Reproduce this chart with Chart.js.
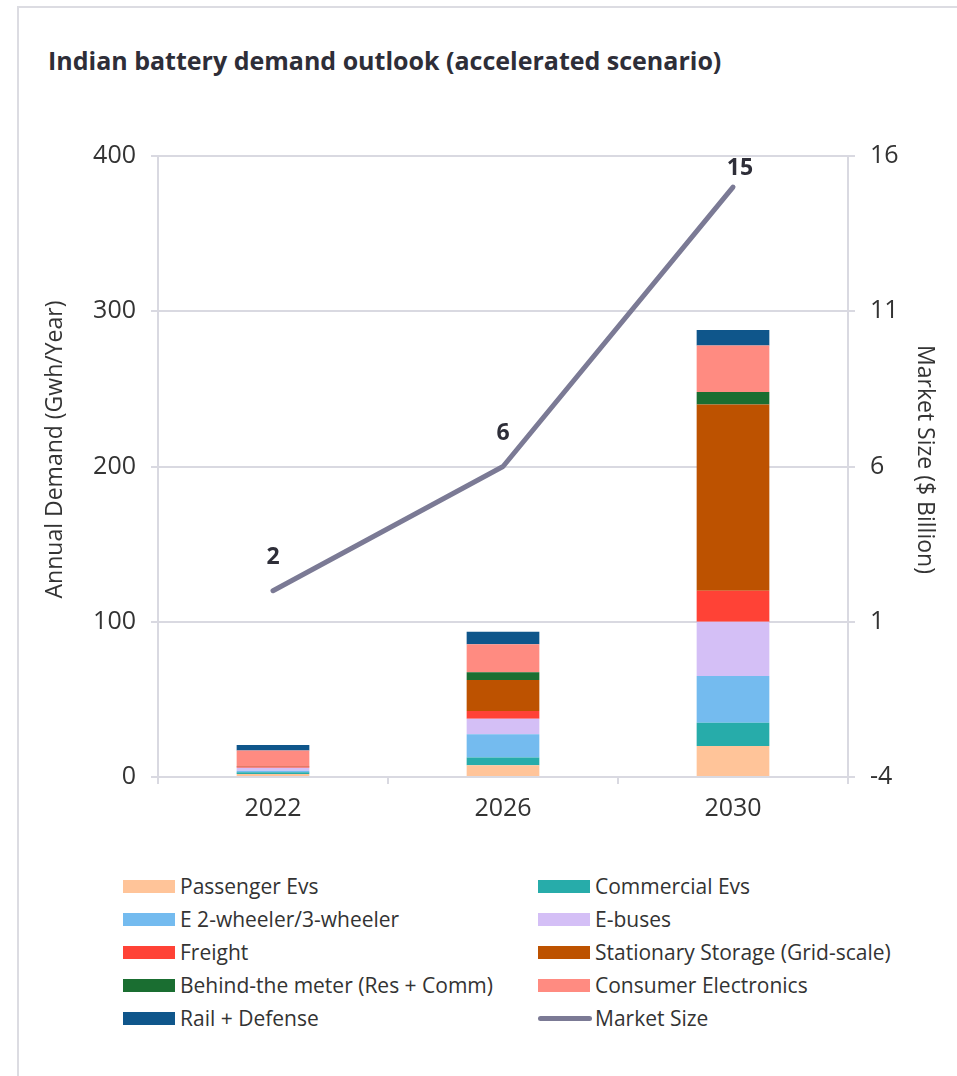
<!DOCTYPE html>
<html><head><meta charset="utf-8">
<script src="https://cdn.jsdelivr.net/npm/chart.js@4.4.1/dist/chart.umd.min.js"></script>
<style>
html,body{margin:0;padding:0;background:#fff;}
body{width:957px;height:1076px;position:relative;overflow:hidden;font-family:"Open Sans",sans-serif;color:#333;}
#frame{position:absolute;left:17px;top:6px;width:1000px;height:1100px;border-left:2px solid #dcdce2;border-top:2px solid #dcdce2;}
#title{position:absolute;left:48px;top:43px;font-family:"Open Sans",sans-serif;font-size:25px;line-height:34px;font-weight:700;color:#2e2e38;white-space:nowrap;}
#wrap{position:absolute;left:0;top:0;width:957px;height:840px;}
.lt{position:absolute;font-size:21px;line-height:26px;white-space:nowrap;color:#333;}
.sw{position:absolute;width:52px;height:13px;}
.ln{position:absolute;width:54px;height:5px;border-radius:3px;}
</style></head><body>
<div id="frame"></div>
<div id="title">Indian battery demand outlook (accelerated scenario)</div>
<div id="wrap"><canvas id="c" width="957" height="840"></canvas></div>
<div id="legend"></div>
<script>
const categories = ['2022', '2026', '2030'];
const passengerEvs = [2, 7.5, 20];
const commercialEvs = [1, 5, 15];
const e2w3w = [1, 15, 30];
const eBuses = [2, 10, 35];
const freight = [0.8, 5, 20];
const stationaryStorage = [0.2, 20, 120];
const behindTheMeter = [0.1, 5, 8];
const consumerElectronics = [10, 18, 30];
const railDefense = [3.5, 8, 10];
const marketSize = [2, 6, 15];
const leftTicks = [0, 100, 200, 300, 400];
const rightTicks = [-4, 1, 6, 11, 16];
const leftTitle = 'Annual Demand (Gwh/Year)';
const rightTitle = 'Market Size ($ Billion)';

const barSeries = [
  ['Passenger Evs', passengerEvs, '#FFC499'],
  ['Commercial Evs', commercialEvs, '#27ACAA'],
  ['E 2-wheeler/3-wheeler', e2w3w, '#74BBEF'],
  ['E-buses', eBuses, '#D4BFF6'],
  ['Freight', freight, '#FF4236'],
  ['Stationary Storage (Grid-scale)', stationaryStorage, '#BD5200'],
  ['Behind-the meter (Res + Comm)', behindTheMeter, '#1A6E31'],
  ['Consumer Electronics', consumerElectronics, '#FF8B81'],
  ['Rail + Defense', railDefense, '#0F568B']
];
const lineColor = '#7B7A95';
const gridColor = '#d9d9e1';
const textColor = '#333333';
const tickFont = {family: '"Open Sans"', size: 25};

const datasets = [{
  type: 'line', label: 'Market Size', data: marketSize, yAxisID: 'y1',
  borderColor: lineColor, backgroundColor: lineColor, borderWidth: 5,
  borderCapStyle: 'round', borderJoinStyle: 'round', pointRadius: 0, tension: 0, order: 0
}];
barSeries.forEach(([name, vals, col]) => datasets.push({
  type: 'bar', label: name, data: vals, backgroundColor: col, yAxisID: 'y',
  stack: 's', barPercentage: 0.316, categoryPercentage: 1, borderWidth: 0, order: 1
}));

const lineLabels = {
  id: 'lineLabels',
  afterDatasetsDraw(chart) {
    const meta = chart.getDatasetMeta(0);
    const ctx = chart.ctx;
    ctx.save();
    ctx.font = 'bold 23px "Open Sans"';
    ctx.fillStyle = '#2e2e38';
    ctx.textAlign = 'center';
    ctx.textBaseline = 'middle';
    meta.data.forEach((pt, i) => {
      let x = pt.x, y = pt.y - 33;
      const minY = chart.chartArea.top + 12;
      if (y < minY) { y = minY; x += 7; }
      ctx.fillText(String(marketSize[i]), x, y);
    });
    ctx.restore();
  }
};

// axis titles, placed beside the two value axes
const axisTitles = {
  id: 'axisTitles',
  afterDraw(chart) {
    const ctx = chart.ctx, ca = chart.chartArea;
    const mid = (ca.top + ca.bottom) / 2;
    ctx.save();
    ctx.font = '23px "Open Sans"';
    ctx.fillStyle = textColor;
    ctx.textAlign = 'center';
    ctx.textBaseline = 'middle';
    ctx.translate(55, mid - 17);
    ctx.rotate(-Math.PI / 2);
    ctx.fillText(leftTitle, 0, 0);
    ctx.restore();
    ctx.save();
    ctx.font = '23px "Open Sans"';
    ctx.fillStyle = textColor;
    ctx.textAlign = 'center';
    ctx.textBaseline = 'middle';
    ctx.translate(925, mid - 7);
    ctx.rotate(Math.PI / 2);
    ctx.fillText(rightTitle, 0, 0);
    ctx.restore();
  }
};

new Chart(document.getElementById('c'), {
  type: 'bar',
  data: {labels: categories, datasets},
  plugins: [lineLabels, axisTitles],
  options: {
    responsive: false, animation: false, devicePixelRatio: 1,
    layout: {padding: {top: 156, left: 0, right: 0, bottom: 0}},
    plugins: {legend: {display: false}, tooltip: {enabled: false}},
    scales: {
      x: {
        stacked: true,
        grid: {display: true, drawOnChartArea: false, drawTicks: true, tickLength: 7, color: gridColor, lineWidth: 2, offset: true},
        border: {display: true, color: gridColor, width: 2},
        ticks: {font: tickFont, color: textColor, padding: 10},
        afterFit: s => { s.height = 63; }
      },
      y: {
        stacked: true, position: 'left', min: 0, max: 400,
        afterBuildTicks: s => { s.ticks = leftTicks.map(v => ({value: v})); },
        grid: {color: gridColor, lineWidth: 2, tickLength: 7},
        border: {display: true, color: gridColor, width: 2},
        ticks: {font: tickFont, color: textColor, padding: 15},
        afterFit: s => { s.width = 158; }
      },
      y1: {
        position: 'right', min: -4, max: 16,
        afterBuildTicks: s => { s.ticks = rightTicks.map(v => ({value: v})); },
        grid: {drawOnChartArea: false, color: gridColor, lineWidth: 2, tickLength: 7},
        border: {display: true, color: gridColor, width: 2},
        ticks: {font: tickFont, color: textColor, padding: 15},
        afterFit: s => { s.width = 109; }
      }
    }
  }
});

// HTML legend built from the series definitions
const legendItems = barSeries.map(([name, , col]) => ({name, col, line: false}));
legendItems.push({name: 'Market Size', col: lineColor, line: true});
const leg = document.getElementById('legend');
legendItems.forEach((it, i) => {
  const row = Math.floor(i / 2), col = i % 2;
  const cy = 886 + 33 * row;
  const bx = col ? 538 : 123, tx = col ? 595 : 180;
  const sw = document.createElement('div');
  if (it.line) { sw.className = 'ln'; sw.style.left = (bx) + 'px'; sw.style.top = (cy - 2.5) + 'px'; }
  else { sw.className = 'sw'; sw.style.left = bx + 'px'; sw.style.top = (cy - 6.5) + 'px'; }
  sw.style.background = it.col;
  leg.appendChild(sw);
  const t = document.createElement('div');
  t.className = 'lt'; t.textContent = it.name;
  t.style.left = tx + 'px'; t.style.top = (cy - 13) + 'px';
  leg.appendChild(t);
});
</script>
</body></html>
